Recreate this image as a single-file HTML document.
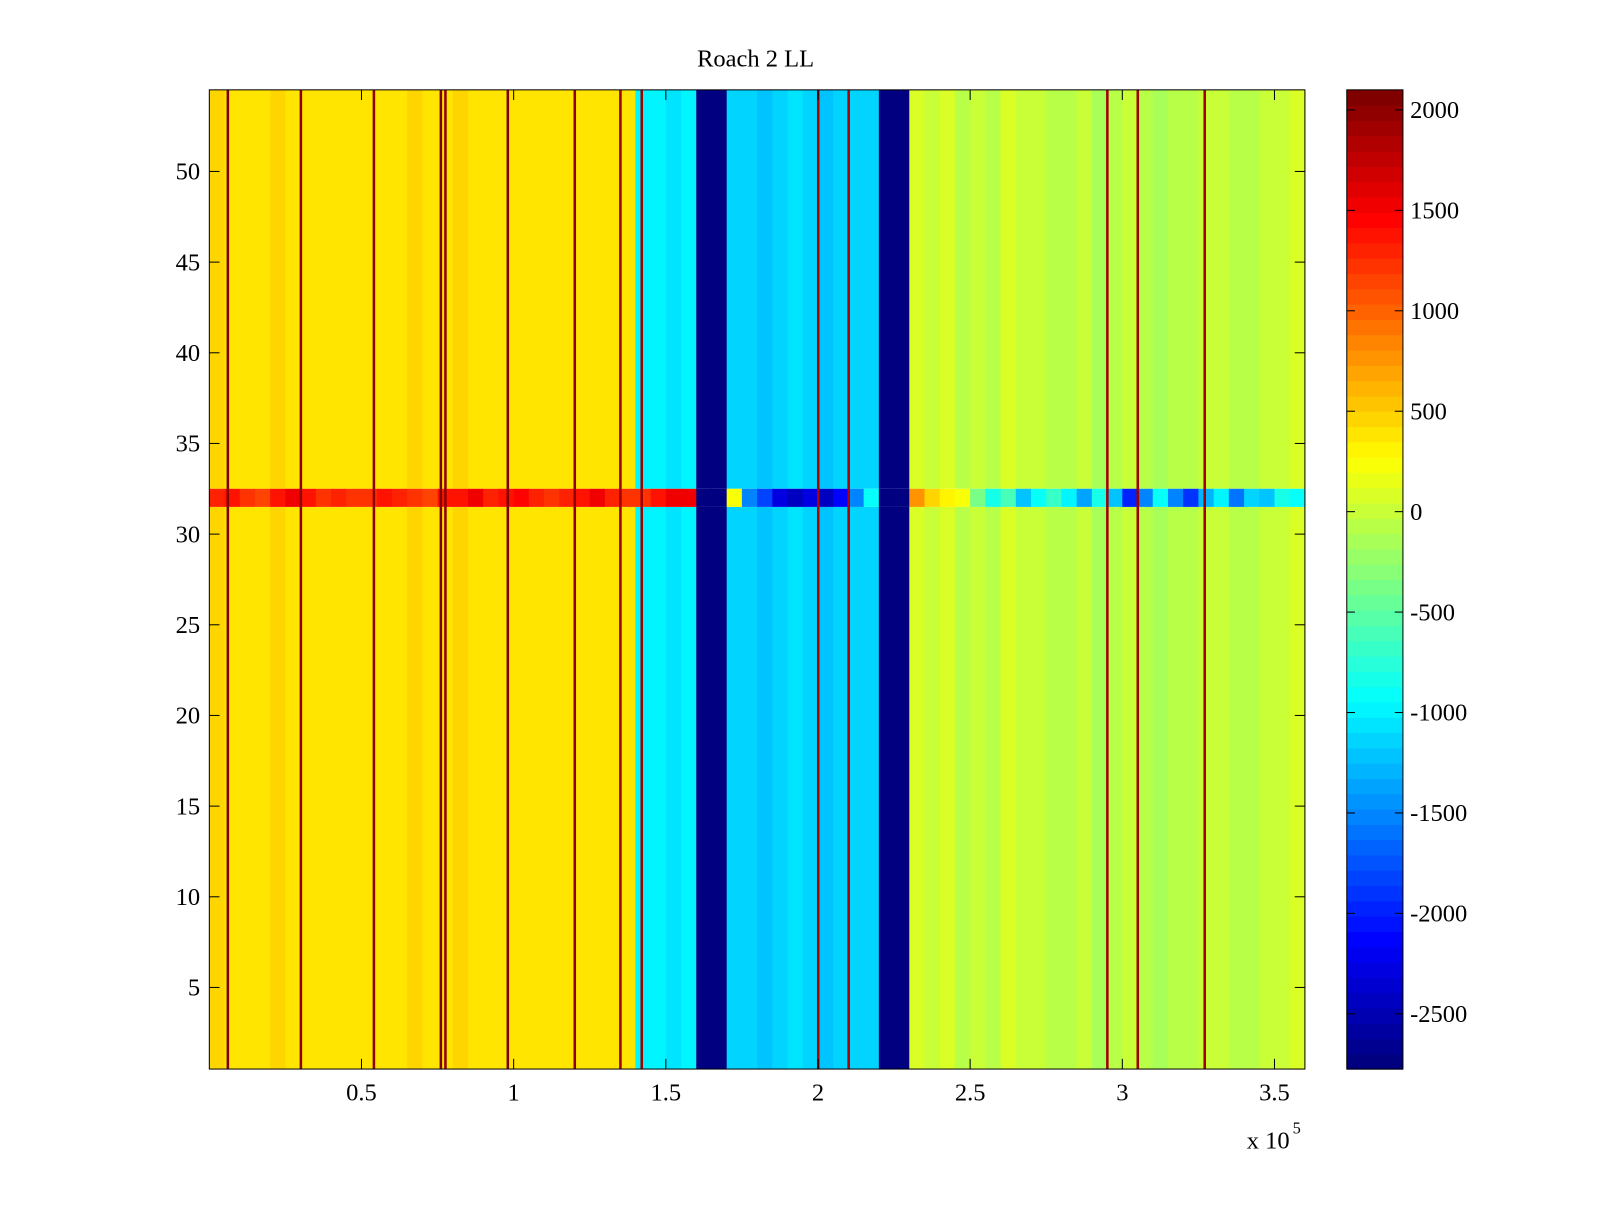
<!DOCTYPE html>
<html><head><meta charset="utf-8"><style>
body{margin:0;background:#fff;}
svg text{font-family:"Liberation Serif",serif;font-size:24px;fill:#000;}
</style></head><body>
<svg id="chart" width="1600" height="1200" viewBox="0 0 1567 1175.25" preserveAspectRatio="none" xmlns="http://www.w3.org/2000/svg"></svg>
<script>
// ---- data ----
const colStarts = [0,5000,10000,15000,20000,25000,30000,35000,40000,45000,50000,55000,60000,65000,70000,75000,80000,85000,90000,95000,100000,105000,110000,115000,120000,125000,130000,135000,140000,145000,150000,155000,160000,165000,170000,175000,180000,185000,190000,195000,200000,205000,210000,215000,220000,225000,230000,235000,240000,245000,250000,255000,260000,265000,270000,275000,280000,285000,290000,295000,300000,305000,310000,315000,320000,325000,330000,335000,340000,345000,350000,355000];
const colValues = [450,420,400,380,430,420,400,350,420,400,380,420,400,430,420,380,450,400,420,380,400,420,350,400,380,420,350,380,-1000,-950,-1050,-1000,-2775,-2775,-1100,-1150,-1200,-1100,-1050,-1150,-1200,-1100,-1150,-1100,-2775,-2775,50,0,100,-50,0,-80,50,-20,20,-100,-60,0,-120,-80,0,-100,-150,-60,-80,-20,0,-60,-100,-10,20,50];
const row32Values = [1300,1400,1200,1150,1350,1500,1400,1250,1300,1200,1250,1350,1300,1200,1150,1400,1350,1500,1300,1400,1450,1300,1250,1300,1400,1550,1300,1250,1250,1350,1500,1550,-2775,-2775,200,-1500,-1800,-2300,-2400,-2300,-2400,-2100,-1500,-900,-2775,-2775,800,500,300,200,-400,-800,-600,-1200,-900,-700,-1000,-1400,-800,-1200,-2000,-1500,-900,-1500,-1900,-1300,-1000,-1600,-1100,-1200,-800,-900];
const spikeX = [6000,30000,54000,76000,77500,98000,120000,135000,142000,200000,210000,295000,305000,327000];
const spikeValues = [2050,2000,1950,2050,2000,2050,1950,1900,1900,1800,1800,1900,1900,1900];
const xTicks = [50000,100000,150000,200000,250000,300000,350000];
const xTickLabels = ["0.5","1","1.5","2","2.5","3","3.5"];
const yTicks = [5,10,15,20,25,30,35,40,45,50];
const cbTicks = [-2500,-2000,-1500,-1000,-500,0,500,1000,1500,2000];
const nRows = 54, colWidth = 5000;
// ---- layout ----
const L=205,R=1278,T=88,B=1047, xMin=0,xMax=360000,yMin=0.5,yMax=54.5;
const vMin=-2775,vMax=2100, cbL=1319,cbR=1374;
const xs=v=>L+(v-xMin)/(xMax-xMin)*(R-L);
const ys=v=>B-(v-yMin)/(yMax-yMin)*(B-T);
const cs=v=>B-(v-vMin)/(vMax-vMin)*(B-T);
function jet(t){t=Math.max(0,Math.min(1,t));t=Math.floor(t*63.999)/63;
 const f=x=>Math.round(255*Math.max(0,Math.min(1,x)));
 return `rgb(${f(1.5-Math.abs(4*t-3))},${f(1.5-Math.abs(4*t-2))},${f(1.5-Math.abs(4*t-1))})`;}
const col=v=>jet((v-vMin)/(vMax-vMin));
const svg=document.getElementById('chart');const NS='http://www.w3.org/2000/svg';
function el(tag,attrs,parent){const e=document.createElementNS(NS,tag);for(const k in attrs)e.setAttribute(k,attrs[k]);(parent||svg).appendChild(e);return e;}
const g=el('g',{});


colStarts.forEach((c,i)=>{
 const x0=xs(c),x1=xs(c+colWidth);
 let r=el('rect',{x:x0,y:ys(54.5),width:x1-x0+0.5,height:ys(32.5)-ys(54.5),fill:col(colValues[i])},g);
 
 
 r=el('rect',{x:x0,y:ys(31.5),width:x1-x0+0.5,height:ys(0.5)-ys(31.5),fill:col(colValues[i])},g);
 
 
 r=el('rect',{x:x0,y:ys(32.5),width:x1-x0+0.5,height:ys(31.5)-ys(32.5),fill:col(row32Values[i])},g);
 
 
});
spikeX.forEach((s,i)=>{
 const r=el('rect',{x:xs(s)-1,y:T,width:2.5,height:B-T,fill:col(spikeValues[i])},g);
 
 
});
let ax=el('rect',{x:L,y:T,width:R-L,height:B-T,fill:'none',stroke:'#000','stroke-width':1});


xTicks.forEach((t,i)=>{const x=xs(t);
 el('line',{x1:x,y1:B,x2:x,y2:B-10,stroke:'#000'});el('line',{x1:x,y1:T,x2:x,y2:T+10,stroke:'#000'});
 const tx=el('text',{x:x,y:B+31,'text-anchor':'middle'});tx.textContent=xTickLabels[i];
 
 });
yTicks.forEach(t=>{const y=ys(t);
 el('line',{x1:L,y1:y,x2:L+10,y2:y,stroke:'#000'});el('line',{x1:R,y1:y,x2:R-10,y2:y,stroke:'#000'});
 const tx=el('text',{x:L-9,y:y+8,'text-anchor':'end'});tx.textContent=t;
 
 });
let ex=el('text',{x:1221,y:1125});ex.textContent='x 10';


let e5=el('text',{x:1266,y:1110,style:'font-size:16px'});e5.textContent='5';


let title=el('text',{x:740,y:65,'text-anchor':'middle'});title.textContent='Roach 2 LL';


const cb=el('g',{});


for(let k=0;k<64;k++){const y0=B-(k+1)*(B-T)/64;
 el('rect',{x:cbL,y:y0,width:cbR-cbL,height:(B-T)/64+0.6,fill:jet(k/63)},cb);}
el('rect',{x:cbL,y:T,width:cbR-cbL,height:B-T,fill:'none',stroke:'#000'},cb);
cbTicks.forEach(t=>{const y=cs(t);
 el('line',{x1:cbL,y1:y,x2:cbL+8,y2:y,stroke:'#000'},cb);el('line',{x1:cbR,y1:y,x2:cbR-8,y2:y,stroke:'#000'},cb);
 const tx=el('text',{x:1381,y:y+8},cb);tx.textContent=t;
 
 });
</script>
</body></html>
